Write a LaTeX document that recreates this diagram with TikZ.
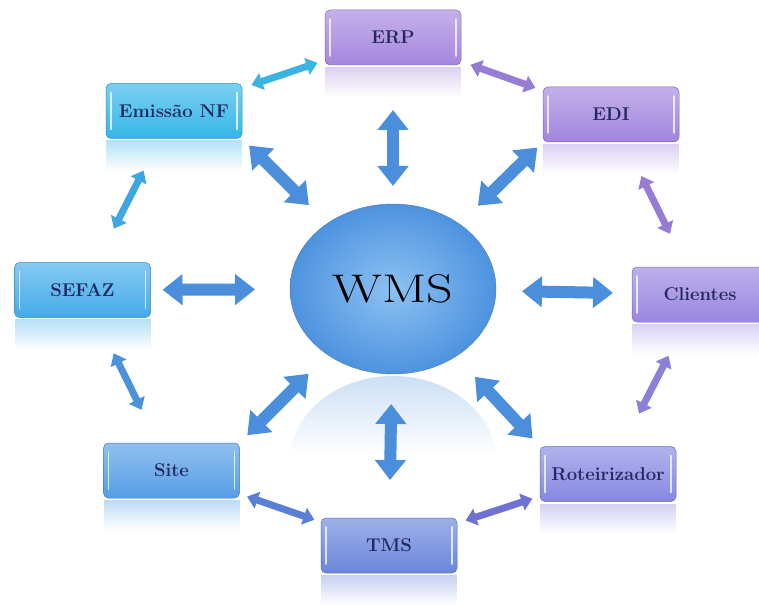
\documentclass[tikz,border=0pt]{standalone}
\usepackage{fontspec}
\usepackage{graphicx}
\usetikzlibrary{arrows.meta,fadings,shapes.geometric}
\tikzfading[name=reflfade, top color=transparent!62, bottom color=transparent!100]
\definecolor{cERP}{HTML}{A586DE}
\definecolor{cEDI}{HTML}{A285DE}
\definecolor{cCli}{HTML}{9A86E0}
\definecolor{cEmis}{HTML}{34B6E8}
\definecolor{cSefaz}{HTML}{43ACEA}
\definecolor{cSite}{HTML}{569EE6}
\definecolor{cTms}{HTML}{6A86DC}
\definecolor{cRot}{HTML}{8688E2}
\definecolor{txtc}{HTML}{23285E}
\definecolor{wmsin}{HTML}{8CC2F2}
\definecolor{wmsout}{HTML}{4E92DF}
\definecolor{cBig}{HTML}{4A8EDC}
\definecolor{cA1}{HTML}{3CB4E2}
\definecolor{cPur}{HTML}{977CD6}
\definecolor{cA7}{HTML}{3EA6E0}
\definecolor{cA10}{HTML}{4A92DA}
\definecolor{cA14}{HTML}{8A80D8}
\definecolor{cA15}{HTML}{5A80D6}
\definecolor{cA16}{HTML}{6E72D2}
\begin{document}
\begin{tikzpicture}[x=1pt,y=-1pt,
  box/.style={rectangle, rounded corners=5pt, minimum width=136pt, minimum height=55pt,
    inner sep=0pt, outer sep=0pt, font=\fontsize{18.5}{22}\selectfont\bfseries, text=txtc,
    draw=#1!80!black, line width=0.5pt, top color=#1!65!white, bottom color=#1},
  refl/.style={fill=#1, path fading=reflfade},
  sarr/.style={line width=7pt, draw=#1, {Triangle[width=17pt,length=11pt]}-{Triangle[width=17pt,length=11pt]}},
  barr/.style={line width=12pt, draw=cBig, {Triangle[width=30pt,length=20pt]}-{Triangle[width=30pt,length=20pt]}},
  hl/.style={white, opacity=0.75, line width=1.6pt, line cap=round}
]
\fill[white] (0,0) rectangle (759,612);
\useasboundingbox (0,0) rectangle (759,612);

% nodes
\node[box=cERP] (erp) at (393,37.5) {ERP};
\node[box=cEDI] (edi) at (611,114.5) {EDI};
\node[box=cEmis] (emis) at (174,111) {Emissão NF};
\node[box=cSefaz] (sefaz) at (82.5,290) {SEFAZ};
\node[box=cCli] (cli) at (700,294.5) {Clientes};
\node[box=cSite] (site) at (171.5,470.5) {Site};
\node[box=cRot] (rot) at (608,474) {Roteirizador};
\node[box=cTms] (tms) at (389,545.5) {TMS};
\node[ellipse, minimum width=206pt, minimum height=170pt, inner sep=0pt, outer sep=0pt,
  inner color=wmsin, outer color=wmsout, draw=wmsout!85!black, line width=0.4pt] (wms) at (393,289)
  {\scalebox{1.3}[1]{\fontsize{40}{44}\selectfont WMS}};

% highlights on the boxes
\foreach \n in {erp,edi,emis,sefaz,cli,site,rot,tms}{
  \draw[hl] ([xshift=5pt,yshift=-9pt]\n.north west) -- ([xshift=5pt,yshift=9pt]\n.south west);
  \draw[hl] ([xshift=-5pt,yshift=-9pt]\n.north east) -- ([xshift=-5pt,yshift=9pt]\n.south east);
}

% reflections
\fill[refl=cERP] ([yshift=-2pt]erp.south west) rectangle ([yshift=-32pt]erp.south east);
\fill[refl=cEDI] ([yshift=-2pt]edi.south west) rectangle ([yshift=-32pt]edi.south east);
\fill[refl=cEmis] ([yshift=-2pt]emis.south west) rectangle ([yshift=-32pt]emis.south east);
\fill[refl=cSefaz] ([yshift=-2pt]sefaz.south west) rectangle ([yshift=-32pt]sefaz.south east);
\fill[refl=cCli] ([yshift=-2pt]cli.south west) rectangle ([yshift=-32pt]cli.south east);
\fill[refl=cSite] ([yshift=-2pt]site.south west) rectangle ([yshift=-32pt]site.south east);
\fill[refl=cRot] ([yshift=-2pt]rot.south west) rectangle ([yshift=-32pt]rot.south east);
\fill[refl=cTms] ([yshift=-2pt]tms.south west) rectangle ([yshift=-32pt]tms.south east);
\begin{scope}
  \clip (393,461) ellipse [x radius=103pt, y radius=85pt];
  \fill[refl=wmsout!75!white] (285,376) rectangle (501,454);
\end{scope}

% connectors
\draw[sarr=cA1, shorten <=10pt, shorten >=8pt] (emis) -- (erp);
\draw[sarr=cPur, shorten <=10pt, shorten >=8pt] (erp) -- (edi);
\draw[barr, shorten <=45pt, shorten >=18pt] (erp) -- (wms);
\draw[barr, shorten <=10pt, shorten >=26pt] (emis.south east) -- (wms);
\draw[barr, shorten <=8pt, shorten >=26pt] (edi.south west) -- (wms);
\draw[sarr=cPur, shorten <=38pt, shorten >=37pt] (edi) -- (cli);
\draw[sarr=cA7, shorten <=36pt, shorten >=38pt] (emis) -- (sefaz);
\draw[barr, shorten <=12pt, shorten >=35pt] (sefaz) -- (wms);
\draw[barr, shorten <=26pt, shorten >=19pt] (wms) -- (cli);
\draw[sarr=cA10, shorten <=40pt, shorten >=37pt] (sefaz) -- (site);
\draw[barr, shorten <=11pt, shorten >=27pt] (site.north east) -- (wms);
\draw[barr, shorten <=30pt, shorten >=38pt] (wms) -- (tms);
\draw[barr, shorten <=28pt, shorten >=11pt] (wms) -- (rot.north west);
\draw[sarr=cA14, shorten <=38pt, shorten >=37pt] (cli) -- (rot);
\draw[sarr=cA15, shorten <=8pt, shorten >=7pt] (site) -- (tms);
\draw[sarr=cA16, shorten <=9pt, shorten >=8pt] (tms) -- (rot);
\end{tikzpicture}
\end{document}
